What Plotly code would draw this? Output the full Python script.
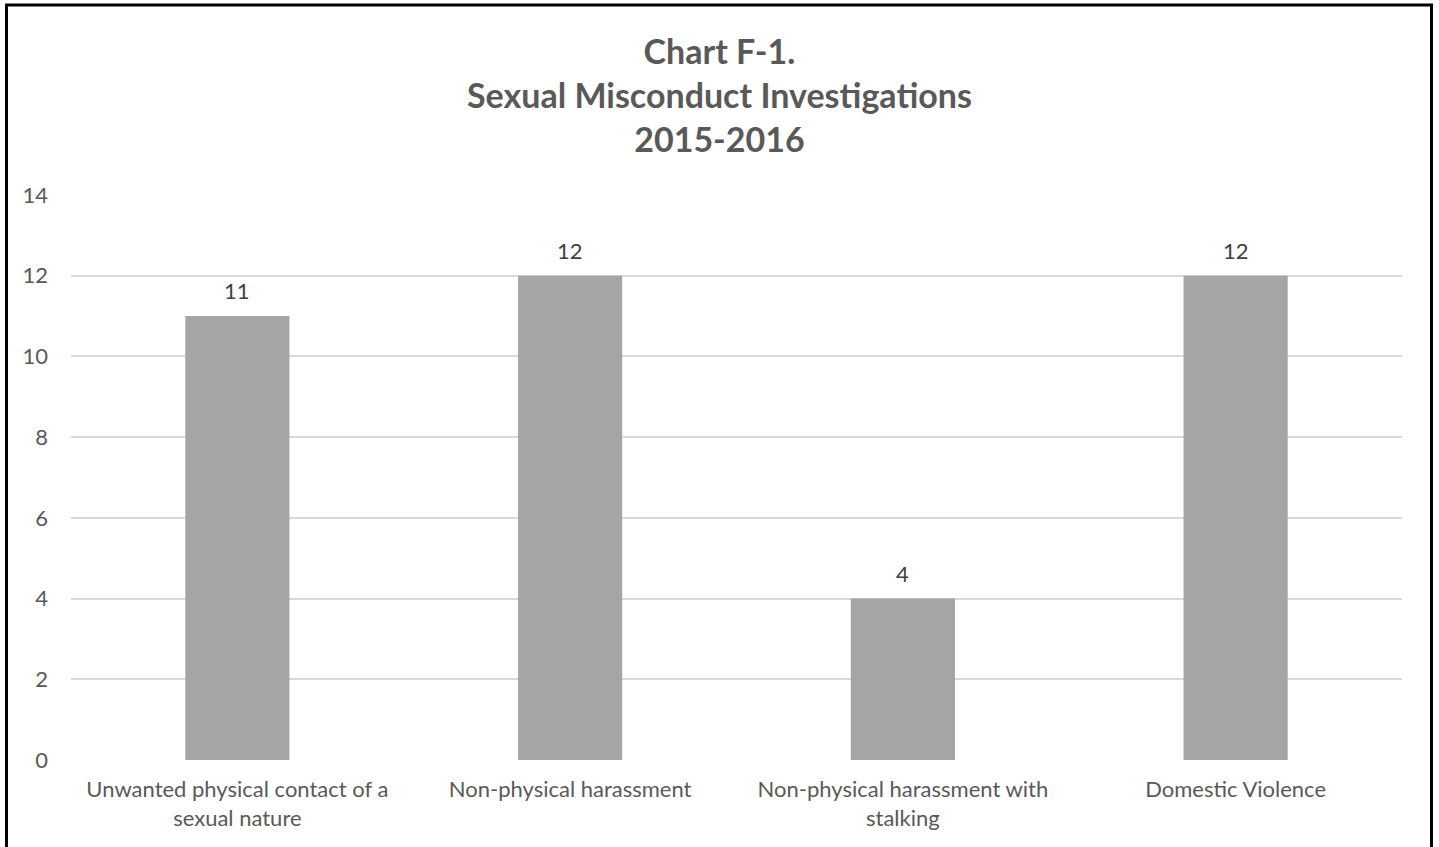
import plotly.graph_objects as go

categories = [
    "Unwanted physical contact of a<br>sexual nature",
    "Non-physical harassment",
    "Non-physical harassment with<br>stalking",
    "Domestic Violence",
]
values = [11, 12, 4, 12]
y_ticks = [0, 2, 4, 6, 8, 10, 12, 14]

W, H = 1439, 847
ML, MR, MT, MB = 71, 37, 195, 87
PW, PH = W - ML - MR, H - MT - MB

TEXT = "#595959"
FONT = "Lato, 'Open Sans', sans-serif"

fig = go.Figure(
    go.Bar(
        x=categories,
        y=values,
        marker=dict(color="#A5A5A5", line=dict(width=0)),
        hoverinfo="skip",
    )
)

for c, v in zip(categories, values):
    fig.add_annotation(
        x=c, y=v, xref="x", yref="y",
        text=str(v), showarrow=False,
        yanchor="bottom", yshift=10,
        font=dict(family=FONT, size=22, color="#404040"),
    )


def px_to_paper_x(px):
    return (px - ML) / PW


def px_to_paper_y(py):
    return (H - MB - py) / PH


fig.add_annotation(
    text="<b>Chart F-1.<br>Sexual Misconduct Investigations<br>2015-2016</b>",
    xref="paper", yref="paper",
    x=px_to_paper_x(719), y=px_to_paper_y(28),
    xanchor="center", yanchor="top",
    showarrow=False, align="center",
    font=dict(family=FONT, size=34, color=TEXT),
)

fig.update_layout(
    width=W,
    height=H,
    margin=dict(l=ML, r=MR, t=MT, b=MB, pad=0),
    paper_bgcolor="white",
    plot_bgcolor="white",
    bargap=0.687,
    showlegend=False,
    xaxis=dict(
        showgrid=False,
        showline=False,
        zeroline=False,
        ticks="",
        tickfont=dict(family=FONT, size=22, color=TEXT),
        ticklabelstandoff=14,
    ),
    yaxis=dict(
        range=[0, 14],
        tickvals=y_ticks,
        showgrid=True,
        gridcolor="#D9D9D9",
        gridwidth=1.5,
        zeroline=False,
        showline=False,
        ticks="",
        tickfont=dict(family=FONT, size=22, color=TEXT),
        ticklabelstandoff=22,
    ),
    shapes=[
        dict(
            type="rect",
            xref="paper",
            yref="paper",
            x0=px_to_paper_x(6.5),
            x1=px_to_paper_x(1431.5),
            y0=px_to_paper_y(860),
            y1=px_to_paper_y(5),
            line=dict(color="black", width=3),
            fillcolor="rgba(0,0,0,0)",
            layer="above",
        )
    ],
)

fig.write_html(
    "out.html",
    config={"displayModeBar": False},
    post_script="document.body.style.margin='0';document.body.style.overflow='hidden';",
)
